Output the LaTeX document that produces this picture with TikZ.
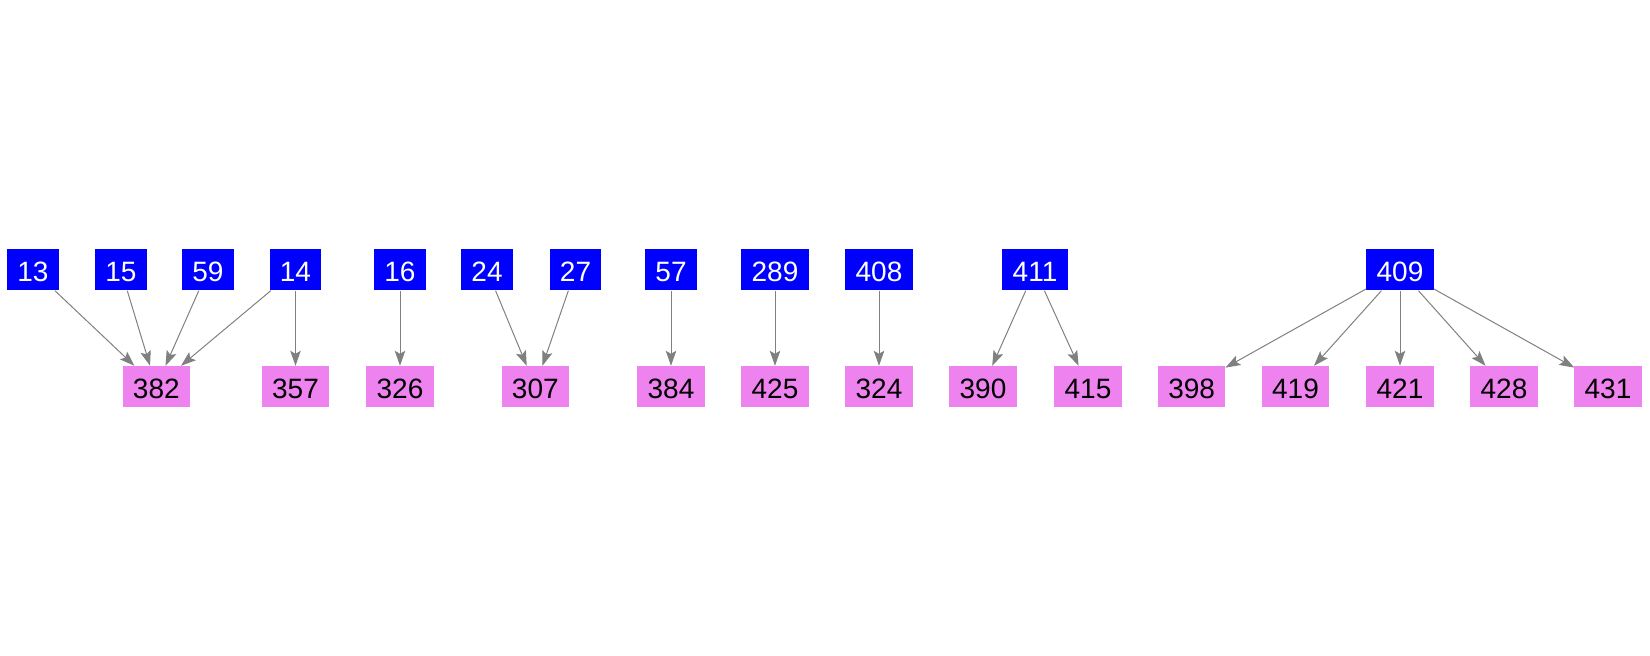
\documentclass[tikz,border=0pt]{standalone}
\usepackage{fontspec}
\setmainfont{Liberation Sans}
\usetikzlibrary{arrows.meta}
\definecolor{srcblue}{HTML}{0000FF}
\definecolor{dstviolet}{HTML}{EE82EE}
\definecolor{edgegray}{HTML}{808080}
\tikzset{
  box/.style={rectangle, inner xsep=10.2pt, inner ysep=0pt, minimum height=41pt,
    text height=24pt, text depth=0pt, font=\fontsize{28}{32}\selectfont},
  srcnode/.style={box, fill=srcblue, text=white},
  dstnode/.style={box, fill=dstviolet, text=black},
  link/.style={draw=edgegray, line width=1pt,
    -{Stealth[length=15pt,width=10.5pt,inset=3pt]}}
}
\begin{document}
\begin{tikzpicture}[x=1pt,y=1pt]
\useasboundingbox (0,0) rectangle (1650,656);
% top row
\node[srcnode] (n13)  at (33,386)   {13};
\node[srcnode] (n15)  at (121,386)  {15};
\node[srcnode] (n59)  at (208,386)  {59};
\node[srcnode] (n14)  at (295.5,386) {14};
\node[srcnode] (n16)  at (400,386)  {16};
\node[srcnode] (n24)  at (487,386)  {24};
\node[srcnode] (n27)  at (575.5,386) {27};
\node[srcnode] (n57)  at (671,386)  {57};
\node[srcnode] (n289) at (775,386)  {289};
\node[srcnode] (n408) at (879,386)  {408};
\node[srcnode] (n411) at (1035,386) {411};
\node[srcnode] (n409) at (1400,386) {409};
% bottom row
\node[dstnode] (n382) at (156.3,269.5) {382};
\node[dstnode] (n357) at (295.5,269.5) {357};
\node[dstnode] (n326) at (400,269.5)   {326};
\node[dstnode] (n307) at (535.3,269.5) {307};
\node[dstnode] (n384) at (671,269.5)   {384};
\node[dstnode] (n425) at (775,269.5)   {425};
\node[dstnode] (n324) at (879,269.5)   {324};
\node[dstnode] (n390) at (983,269.5)   {390};
\node[dstnode] (n415) at (1088,269.5)  {415};
\node[dstnode] (n398) at (1191.7,269.5) {398};
\node[dstnode] (n419) at (1295.5,269.5) {419};
\node[dstnode] (n421) at (1400,269.5)  {421};
\node[dstnode] (n428) at (1504,269.5)  {428};
\node[dstnode] (n431) at (1608,269.5)  {431};
% edges
\draw[link] (n13) -- (n382);
\draw[link] (n15) -- (n382);
\draw[link] (n59) -- (n382);
\draw[link] (n14) -- (n382);
\draw[link] (n14) -- (n357);
\draw[link] (n16) -- (n326);
\draw[link] (n24) -- (n307);
\draw[link] (n27) -- (n307);
\draw[link] (n57) -- (n384);
\draw[link] (n289) -- (n425);
\draw[link] (n408) -- (n324);
\draw[link] (n411) -- (n390);
\draw[link] (n411) -- (n415);
\draw[link] (n409) -- (n398);
\draw[link] (n409) -- (n419);
\draw[link] (n409) -- (n421);
\draw[link] (n409) -- (n428);
\draw[link] (n409) -- (n431);
\end{tikzpicture}
\end{document}
